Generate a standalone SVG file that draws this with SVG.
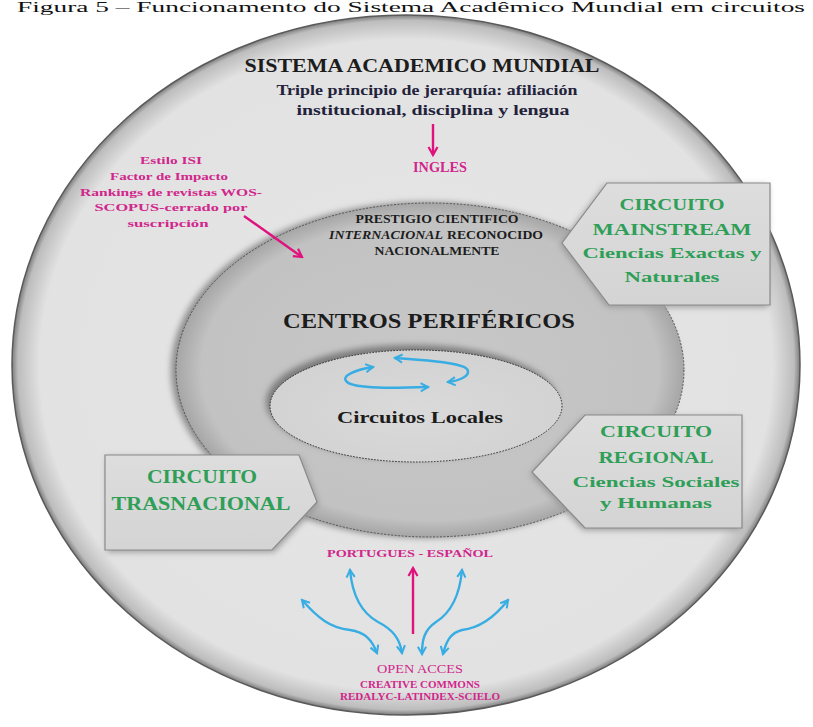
<svg xmlns="http://www.w3.org/2000/svg" width="813" height="727" viewBox="0 0 813 727">
<defs>
<style>
.serif{font-family:"Liberation Serif","DejaVu Serif",serif;font-weight:bold}
.dark{fill:#1c1c1c}
.mag{fill:#d1268c}
.grn{fill:#2f9f58}
.pink-ln{fill:none;stroke:#e0127e;stroke-width:2.4}
.blue-ln{fill:none;stroke:#38ade3;stroke-width:2.4;stroke-linecap:round}
.box{fill:url(#boxGrad);stroke:#8a8a8a;stroke-width:1.2}
</style>
<radialGradient id="outerGrad" cx="50%" cy="50%" r="50%">
<stop offset="0" stop-color="#e6e6e6"/>
<stop offset="0.93" stop-color="#e2e2e2"/>
<stop offset="0.985" stop-color="#bdbdbd"/>
<stop offset="1" stop-color="#7d7d7d"/>
</radialGradient>
<radialGradient id="midGrad" cx="50%" cy="50%" r="50%">
<stop offset="0" stop-color="#c8c8c8"/>
<stop offset="0.9" stop-color="#c2c2c2"/>
<stop offset="1" stop-color="#a6a6a6"/>
</radialGradient>
<radialGradient id="innerGrad" cx="50%" cy="55%" r="55%">
<stop offset="0" stop-color="#dadada"/>
<stop offset="1" stop-color="#d2d2d2"/>
</radialGradient>
<linearGradient id="boxGrad" x1="0" y1="0" x2="0" y2="1">
<stop offset="0" stop-color="#dddddd"/>
<stop offset="1" stop-color="#d4d4d4"/>
</linearGradient>
<filter id="blur" x="-20%" y="-20%" width="140%" height="140%"><feGaussianBlur stdDeviation="3"/></filter>
<marker id="pinkHead" viewBox="0 0 12 12" refX="10" refY="6" markerWidth="12" markerHeight="12" markerUnits="userSpaceOnUse" orient="auto-start-reverse">
<path d="M2,1.5 L10,6 L2,10.5" fill="none" stroke="#e0127e" stroke-width="2.2"/>
</marker>
<marker id="blueHead" viewBox="0 0 12 12" refX="10" refY="6" markerWidth="11" markerHeight="11" markerUnits="userSpaceOnUse" orient="auto-start-reverse">
<path d="M2,1.5 L10,6 L2,10.5" fill="none" stroke="#38ade3" stroke-width="2.2"/>
</marker>
</defs>
<rect width="813" height="727" fill="#ffffff"/>

<text class="serif" x="17" y="12" font-size="15" fill="#111" textLength="788" lengthAdjust="spacingAndGlyphs" style="font-weight:normal">Figura 5 – Funcionamento do Sistema Acadêmico Mundial em circuitos</text>

<g id="sistema-academico-mundial">
<ellipse cx="406" cy="365" rx="394" ry="350" fill="url(#outerGrad)" stroke="#5a5a5a" stroke-width="1.5"/>
<text class="serif dark" x="422" y="72" font-size="19" text-anchor="middle" textLength="355" lengthAdjust="spacingAndGlyphs">SISTEMA ACADEMICO MUNDIAL</text>
<text class="serif" x="427" y="95" font-size="15" fill="#22223a" text-anchor="middle" textLength="301" lengthAdjust="spacingAndGlyphs">Triple principio de jerarquía: afiliación</text>
<text class="serif" x="433" y="115" font-size="15" fill="#22223a" text-anchor="middle" textLength="273" lengthAdjust="spacingAndGlyphs">institucional, disciplina y lengua</text>
</g>

<g id="centros-perifericos">
<ellipse cx="428" cy="373" rx="254" ry="168" fill="#8c8c8c" filter="url(#blur)" transform="translate(-3,-3)"/>
<ellipse cx="430" cy="370" rx="254" ry="167" fill="url(#midGrad)" stroke="#4a4a4a" stroke-width="0.9" stroke-dasharray="2 1.5"/>
<text class="serif dark" x="437" y="223" font-size="11.5" text-anchor="middle" textLength="163" lengthAdjust="spacingAndGlyphs">PRESTIGIO CIENTIFICO</text>
<text class="serif dark" x="329" y="239" font-size="11.5" font-style="italic" textLength="114" lengthAdjust="spacingAndGlyphs">INTERNACIONAL</text>
<text class="serif dark" x="447" y="239" font-size="11.5" textLength="96" lengthAdjust="spacingAndGlyphs">RECONOCIDO</text>
<text class="serif dark" x="437" y="255" font-size="11.5" text-anchor="middle" textLength="125" lengthAdjust="spacingAndGlyphs">NACIONALMENTE</text>
<text class="serif dark" x="429" y="328" font-size="22" text-anchor="middle" textLength="292" lengthAdjust="spacingAndGlyphs">CENTROS PERIFÉRICOS</text>
</g>

<g id="circuitos-locales">
<ellipse cx="412" cy="402" rx="146" ry="57" fill="#7a7a7a" filter="url(#blur)"/>
<ellipse cx="416" cy="406" rx="146" ry="56" fill="url(#innerGrad)" stroke="#2a2a2a" stroke-width="1" stroke-dasharray="1.5 1.5"/>
<text class="serif dark" x="420" y="423" font-size="16" text-anchor="middle" textLength="166" lengthAdjust="spacingAndGlyphs">Circuitos Locales</text>
</g>

<g id="circuito-mainstream">
<polygon points="607,183 770,183 770,305 609,305 562,243" fill="#9a9a9a" filter="url(#blur)" transform="translate(-2,2)"/>
<polygon class="box" points="607,183 770,183 770,305 609,305 562,243"/>
<text class="serif grn" x="672" y="210" font-size="17" text-anchor="middle" textLength="105" lengthAdjust="spacingAndGlyphs">CIRCUITO</text>
<text class="serif grn" x="672" y="235" font-size="17" text-anchor="middle" textLength="159" lengthAdjust="spacingAndGlyphs">MAINSTREAM</text>
<text class="serif grn" x="672" y="258" font-size="14" text-anchor="middle" textLength="179" lengthAdjust="spacingAndGlyphs">Ciencias Exactas y</text>
<text class="serif grn" x="672" y="282" font-size="14" text-anchor="middle" textLength="95" lengthAdjust="spacingAndGlyphs">Naturales</text>
</g>

<g id="circuito-regional">
<polygon points="585,415 742,415 742,528 585,528 532,472" fill="#9a9a9a" filter="url(#blur)" transform="translate(-2,2)"/>
<polygon class="box" points="585,415 742,415 742,528 585,528 532,472"/>
<text class="serif grn" x="656" y="437" font-size="17" text-anchor="middle" textLength="112" lengthAdjust="spacingAndGlyphs">CIRCUITO</text>
<text class="serif grn" x="656" y="463" font-size="17" text-anchor="middle" textLength="115" lengthAdjust="spacingAndGlyphs">REGIONAL</text>
<text class="serif grn" x="656" y="487" font-size="15" text-anchor="middle" textLength="167" lengthAdjust="spacingAndGlyphs">Ciencias Sociales</text>
<text class="serif grn" x="656" y="508" font-size="15" text-anchor="middle" textLength="112" lengthAdjust="spacingAndGlyphs">y Humanas</text>
</g>

<g id="circuito-trasnacional">
<polygon points="105,455 299,455 317,502 272,550 105,550" fill="#9a9a9a" filter="url(#blur)" transform="translate(2,2)"/>
<polygon class="box" points="105,455 299,455 317,502 272,550 105,550"/>
<text class="serif grn" x="202" y="483" font-size="18" text-anchor="middle" textLength="110" lengthAdjust="spacingAndGlyphs">CIRCUITO</text>
<text class="serif grn" x="201" y="510" font-size="18" text-anchor="middle" textLength="179" lengthAdjust="spacingAndGlyphs">TRASNACIONAL</text>
</g>

<g id="ingles">
<text class="serif mag" x="440" y="172" font-size="14" text-anchor="middle" textLength="54" lengthAdjust="spacingAndGlyphs">INGLES</text>
</g>

<g id="estilo-isi">
<text class="serif mag" x="171" y="164" font-size="11" text-anchor="middle" textLength="62" lengthAdjust="spacingAndGlyphs">Estilo ISI</text>
<text class="serif mag" x="169" y="180" font-size="11" text-anchor="middle" textLength="118" lengthAdjust="spacingAndGlyphs">Factor de Impacto</text>
<text class="serif mag" x="171" y="196" font-size="11" text-anchor="middle" textLength="182" lengthAdjust="spacingAndGlyphs">Rankings de revistas WOS-</text>
<text class="serif mag" x="171" y="211" font-size="11" text-anchor="middle" textLength="153" lengthAdjust="spacingAndGlyphs">SCOPUS-cerrado por</text>
<text class="serif mag" x="168" y="227" font-size="11" text-anchor="middle" textLength="81" lengthAdjust="spacingAndGlyphs">suscripción</text>
</g>

<g id="portugues-espanol">
<text class="serif mag" x="410" y="557" font-size="11" text-anchor="middle" textLength="166" lengthAdjust="spacingAndGlyphs">PORTUGUES - ESPAÑOL</text>
</g>

<g id="open-acces">
<text class="serif mag" x="420" y="673" font-size="12" text-anchor="middle" textLength="86" lengthAdjust="spacingAndGlyphs" style="font-weight:normal">OPEN ACCES</text>
<text class="serif mag" x="420" y="688" font-size="10.5" text-anchor="middle" textLength="120" lengthAdjust="spacingAndGlyphs">CREATIVE COMMONS</text>
<text class="serif mag" x="420" y="700" font-size="10.5" text-anchor="middle" textLength="160" lengthAdjust="spacingAndGlyphs">REDALYC-LATINDEX-SCIELO</text>
</g>

<g id="connectors">
<path class="pink-ln" d="M433,124 L433,155" marker-end="url(#pinkHead)"/>
<path class="pink-ln" d="M244,216 L302,257" marker-end="url(#pinkHead)"/>
<path class="pink-ln" d="M413,634 L413,568" marker-end="url(#pinkHead)"/>
<path class="blue-ln" d="M373,367 C355,370 340,376 347,382 C355,389 395,388 428,387" marker-start="url(#blueHead)" marker-end="url(#blueHead)"/>
<path class="blue-ln" d="M395,358 C420,360 460,362 467,369 C472,376 458,381 448,382" marker-start="url(#blueHead)" marker-end="url(#blueHead)"/>
<path class="blue-ln" d="M302,600 C318,618 330,628 350,630 C365,632 372,640 377,653" marker-start="url(#blueHead)" marker-end="url(#blueHead)"/>
<path class="blue-ln" d="M350,570 C352,592 360,612 378,622 C394,630 400,640 402,653" marker-start="url(#blueHead)" marker-end="url(#blueHead)"/>
<path class="blue-ln" d="M462,570 C460,592 452,612 436,622 C424,630 422,640 422,654" marker-start="url(#blueHead)" marker-end="url(#blueHead)"/>
<path class="blue-ln" d="M508,600 C494,618 480,628 462,630 C450,633 446,642 443,654" marker-start="url(#blueHead)" marker-end="url(#blueHead)"/>
</g>
</svg>
